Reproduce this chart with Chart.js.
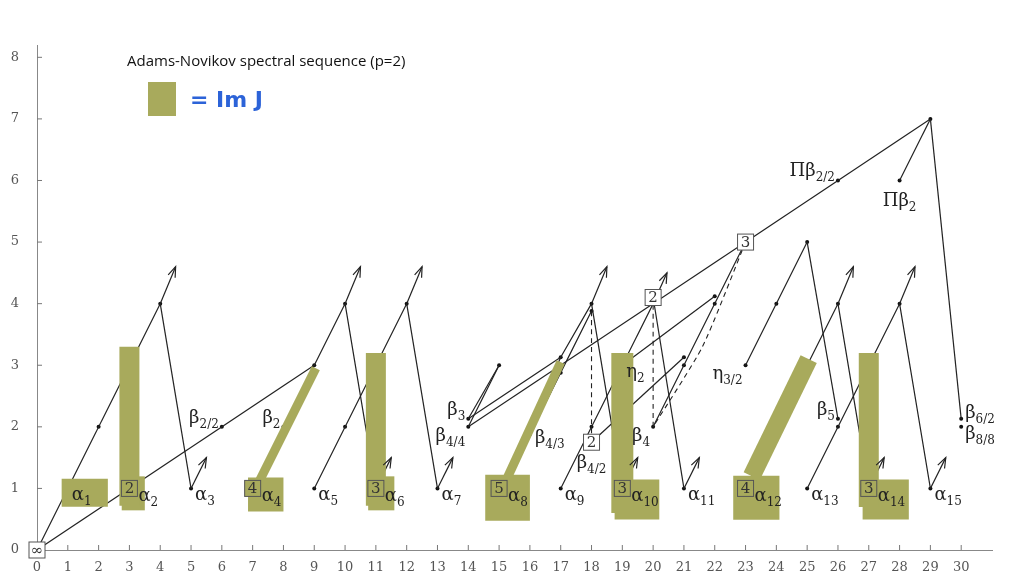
<!DOCTYPE html>
<html><head><meta charset="utf-8">
<script src="https://cdn.jsdelivr.net/npm/chart.js@4/dist/chart.umd.min.js"></script>
<style>html,body{margin:0;background:#fff}#wrap{width:1024px;height:576px}</style>
</head><body><div id="wrap"><canvas id="c"></canvas></div>
<script>
const titleText='Adams-Novikov spectral sequence (p=2)';
const legendText='= Im J';
const xTicks=[0,1,2,3,4,5,6,7,8,9,10,11,12,13,14,15,16,17,18,19,20,21,22,23,24,25,26,27,28,29,30];
const yTicks=[0,1,2,3,4,5,6,7,8];

// dots (stem, filtration)
const dots=[[1,1],[2,2],[3,3],[4,4],[5,1],[6,2],[8,2],[8,1.85],[9,3],[9,2.9],[9,1],[10,2],[10,4],[11,3],[12,4],[13,1],
  [14,2.13],[14,2],[15,3],[16,1.88],[17,3.13],[17,2.88],[17,1],[18,4],[18,3.88],[18,2],[19,3],[20,2],[21,3.13],[21,3],[21,1],
  [22,4.12],[22,4],[23,3],[24,4],[25,5],[24,2],[25,3],[26,4],[25,1],[26,2],[26,2.13],[27,3],[28,4],[29,1],[26,6],[28,6],[29,7],[30,2.13],[30,2]];

// solid differentials / multiplications
const lines=[
  [[0,0],[4,4]],[[4,4],[5,1]],[[0,0],[9,3]],
  [[7,1],[8,2],[9,3]],[[7,1],[8,1.85],[9,2.9]],
  [[9,3],[10,4]],[[10,4],[11,1]],[[9,1],[12,4]],[[12,4],[13,1]],
  [[14,2.13],[15,3]],[[14,2],[15,3]],[[14,2.13],[17,3.13]],[[14,2],[29,7]],
  [[15,1],[16,2],[17,3.13],[18,4]],[[15,1],[16,1.88],[17,2.88],[18,3.88]],
  [[18,4],[19,1]],[[17,1],[20,4]],[[20,4.1],[21,1]],[[18,1.75],[21,3.13]],[[19,3],[22,4.12]],[[20,2],[23,5]],
  [[23,3],[25,5]],[[25,5],[26,2.13]],[[23,1],[26,4]],[[26,4],[27,1]],[[25,1],[28,4]],[[28,4],[29,1]],
  [[29,7],[28,6]],[[29,7],[30,2.13]]
];
// arrows going off to higher filtration
const arrows=[
  [[4,4],[4.5,4.6]],[[5,1],[5.5,1.5]],[[10,4],[10.5,4.6]],[[11,1],[11.5,1.5]],[[12,4],[12.5,4.6]],[[13,1],[13.5,1.5]],
  [[18,4],[18.5,4.6]],[[19,1],[19.5,1.5]],[[20,4],[20.45,4.5]],[[21,1],[21.5,1.5]],
  [[26,4],[26.5,4.6]],[[27,1],[27.5,1.5]],[[28,4],[28.5,4.6]],[[29,1],[29.5,1.5]]
];
const dashed=[[[3,1],[3,3]],[[11,1],[11,3]],[[18,1.75],[18,3.88]],[[19,1],[19,3]],[[20,2],[20,4]],[[23,5],[21.6,3.3],[20,2]],[[27,1],[27,3]]];

// boxed classes
const boxes=[['∞',0,0],['2',3,1],['4',7,1],['3',11,1],['5',15,1],['2',18,1.75],['3',19,1],['2',20,4.1],['3',23,5],['4',23,1],['3',27,1]];

// labels: main, subscript, x, y, side
const labels=[
  ['α','1',1,1,'se'],['α','2',3,1,'sebox'],['α','3',5,1,'se'],['α','4',7,1,'sebox'],['α','5',9,1,'se'],['α','6',11,1,'sebox'],
  ['α','7',13,1,'se'],['α','8',15,1,'sebox'],['α','9',17,1,'se'],['α','10',19,1,'sebox'],['α','11',21,1,'se'],['α','12',23,1,'sebox'],
  ['α','13',25,1,'se'],['α','14',27,1,'sebox'],['α','15',29,1,'se'],
  ['β','2/2',6,2,'nw'],['β','2',8,2,'nw'],['β','3',14,2.13,'nw'],['β','4/4',14,2,'sw'],['β','4/3',16,1.88,'e'],['β','4/2',18,1.75,'s'],
  ['η','2',19,3,'se'],['β','4',20,2,'sw'],['η','3/2',23,3,'sw'],['β','5',26,2.13,'nw'],['Πβ','2/2',26,6,'nw'],['Πβ','2',28,6,'s'],
  ['β','6/2',30,2.13,'ne'],['β','8/8',30,2,'se']
];

// Im J highlight strokes: points and stroke width in px
const highlights=[
  [[[0.8,0.93],[2.3,0.93]],28],
  [[[3,0.72],[3,3.3]],20],[[[2.75,0.92],[3.5,0.92]],34],
  [[[6.85,0.9],[8,0.9]],34],[[[7.2,1.1],[9.05,2.95]],9],
  [[[11,0.72],[11,3.2]],20],[[[10.75,0.92],[11.6,0.92]],34],
  [[[14.55,0.85],[16,0.85]],46],[[[15.2,1.1],[17,3.05]],9],
  [[[19,0.6],[19,3.2]],22],[[[18.75,0.82],[20.2,0.82]],40],
  [[[22.6,0.85],[24.1,0.85]],44],[[[23.2,1.2],[25.05,3.1]],18],
  [[[27,0.7],[27,3.2]],20],[[[26.8,0.82],[28.3,0.82]],40]
];

const green='rgb(168,170,92)';
const xy=a=>a.map(p=>({x:p[0],y:p[1]}));
const datasets=[];
highlights.forEach(h=>datasets.push({data:xy(h[0]),showLine:true,borderColor:green,borderWidth:h[1],borderCapStyle:'butt',pointRadius:0}));
lines.concat(arrows).forEach(l=>datasets.push({data:xy(l),showLine:true,borderColor:'#222',borderWidth:1.2,pointRadius:0}));
dashed.forEach(l=>datasets.push({data:xy(l),showLine:true,borderColor:'#222',borderWidth:1.1,borderDash:[5,4],pointRadius:0,tension:0.2}));
datasets.push({data:xy(dots),showLine:false,pointRadius:2,pointBackgroundColor:'#111',pointBorderWidth:0});

const deco={
  id:'deco',
  afterDatasetsDraw(chart){
    const ctx=chart.ctx,xs=chart.scales.x,ys=chart.scales.y;
    const X=v=>xs.getPixelForValue(v),Y=v=>ys.getPixelForValue(v);
    ctx.save();
    // inward ticks
    ctx.strokeStyle='#777';ctx.lineWidth=1;
    xTicks.forEach(t=>{if(t>0){ctx.beginPath();ctx.moveTo(X(t),Y(0));ctx.lineTo(X(t),Y(0)-5);ctx.stroke();}});
    yTicks.forEach(t=>{if(t>0){ctx.beginPath();ctx.moveTo(X(0),Y(t));ctx.lineTo(X(0)+5,Y(t));ctx.stroke();}});
    // arrowheads
    ctx.strokeStyle='#222';ctx.lineWidth=1.2;
    arrows.forEach(a=>{
      const x1=X(a[1][0]),y1=Y(a[1][1]),x0=X(a[0][0]),y0=Y(a[0][1]);
      const ang=Math.atan2(y1-y0,x1-x0);
      ctx.beginPath();
      ctx.moveTo(x1-11*Math.cos(ang-0.35),y1-11*Math.sin(ang-0.35));
      ctx.lineTo(x1,y1);
      ctx.lineTo(x1-11*Math.cos(ang+0.35),y1-11*Math.sin(ang+0.35));
      ctx.stroke();
    });
    // boxes
    ctx.lineWidth=1;
    ctx.font='15px "DejaVu Serif"';ctx.textAlign='center';ctx.textBaseline='middle';
    const onGreen=[[3,1],[7,1],[11,1],[15,1],[19,1],[23,1],[27,1]];
    boxes.forEach(b=>{
      const px=X(b[1]),py=Y(b[2]);
      const g=onGreen.some(p=>p[0]===b[1]&&p[1]===b[2]);
      ctx.fillStyle=g?green:'#fff';
      ctx.fillRect(px-8,py-8,16,16);
      ctx.strokeStyle='#555';ctx.strokeRect(px-8,py-8,16,16);
      ctx.fillStyle='#333';ctx.fillText(b[0],px,py+1);
    });
    // labels
    ctx.textAlign='left';ctx.textBaseline='alphabetic';
    labels.forEach(l=>{
      const px=X(l[2]),py=Y(l[3]);
      ctx.font='18px "DejaVu Serif"';const w1=ctx.measureText(l[0]).width;
      ctx.font='12px "DejaVu Serif"';const w2=ctx.measureText(l[1]).width;
      let tx,ty;
      switch(l[4]){
        case 'se':tx=px+4;ty=py+12;break;
        case 'sebox':tx=px+9;ty=py+13;break;
        case 'e':tx=px+5;ty=py+9;break;
        case 'ne':tx=px+4;ty=py-1;break;
        case 'nw':tx=px-w1-w2-3;ty=py-4;break;
        case 'sw':tx=px-w1-w2-3;ty=py+14;break;
        case 's':tx=px-(w1+w2)/2;ty=py+26;break;
      }
      ctx.fillStyle='#222';ctx.font='18px "DejaVu Serif"';ctx.fillText(l[0],tx,ty);
      ctx.font='12px "DejaVu Serif"';ctx.fillText(l[1],tx+w1,ty+5);
    });
    // title + legend
    ctx.fillStyle='#111';ctx.font='15px "Open Sans"';ctx.fillText(titleText,127,66);
    ctx.fillStyle=green;ctx.fillRect(148,82,28,34);
    ctx.fillStyle='#2c63d8';ctx.font='bold 22px "DejaVu Sans"';ctx.fillText(legendText,190,107);
    ctx.restore();
  }
};

new Chart(document.getElementById('c'),{
  type:'scatter',
  data:{datasets},
  options:{
    responsive:true,maintainAspectRatio:false,animation:false,
    layout:{padding:{top:45,right:32,left:0,bottom:0}},
    plugins:{legend:{display:false},tooltip:{enabled:false}},
    scales:{
      x:{type:'linear',min:0,max:31,afterFit:s=>{s.height=26;},
        afterBuildTicks:s=>{s.ticks=xTicks.map(v=>({value:v}));},
        grid:{display:false},border:{display:true,color:'#888'},
        ticks:{autoSkip:false,maxRotation:0,padding:2,color:'#555',font:{family:'DejaVu Serif',size:13}}},
      y:{type:'linear',min:0,max:8.2,afterFit:s=>{s.width=37;},
        afterBuildTicks:s=>{s.ticks=yTicks.map(v=>({value:v}));},
        grid:{display:false},border:{display:true,color:'#888'},
        ticks:{autoSkip:false,padding:10,color:'#555',font:{family:'DejaVu Serif',size:13}}}
    }
  },
  plugins:[deco]
});
</script></body></html>
